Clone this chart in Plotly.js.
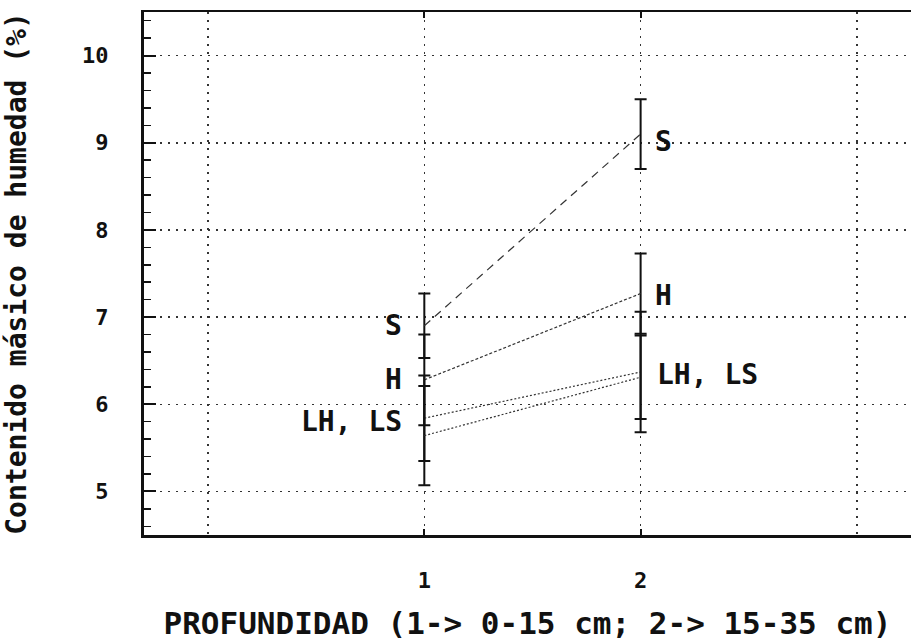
<!DOCTYPE html>
<html>
<head>
<meta charset="utf-8">
<script src="https://cdn.plot.ly/plotly-3.0.1.min.js"></script>
<style>html,body{margin:0;padding:0;background:#fff;}#chart{width:911px;height:641px;}</style>
</head>
<body>
<div id="chart"></div>
<script>
// Depth classes (1 -> 0-15 cm; 2 -> 15-35 cm)
const depth = [1, 2];
const seriesNames = ['S', 'H', 'LH', 'LS'];
// Mean mass moisture content (%)
const S  = [6.90, 9.10];
const H  = [6.28, 7.27];
const LH = [5.84, 6.37];
const LS = [5.64, 6.31];
// Error (half-range) for each mean
const errS  = [0.37, 0.40];
const errH  = [0.52, 0.46];
const errLH = [0.49, 0.69];
const errLS = [0.57, 0.48];
const xTickVals = [1, 2];
const xTickText = ['1', '2'];
const labelLeft = ['S', 'H', 'LH, LS'];
const labelRight = ['S', 'H', 'LH, LS'];

const FONT = '"DejaVu Sans Mono", "Liberation Mono", monospace';
const dashes = ['8px,6px', '3px,2px', '2px,2px', '2px,2px'];
const values = [S, H, LH, LS];
const errs = [errS, errH, errLH, errLS];

const traces = values.map((v, i) => ({
  x: depth, y: v, name: seriesNames[i], type: 'scatter', mode: 'lines',
  line: {color: '#333', width: 1.2, dash: dashes[i]},
  error_y: {type: 'data', array: errs[i], visible: true, color: '#111', thickness: 2, width: 6},
  hoverinfo: 'x+y'
}));

const annFont = {family: FONT, size: 28, color: '#111', weight: 'bold'};
const annotations = [];
// labels at depth 1 (to the left)
[[S[0], labelLeft[0]], [H[0], labelLeft[1]], [(LH[0] + LS[0]) / 2 + 0.06, labelLeft[2]]].forEach(([y, t]) => {
  annotations.push({x: depth[0], y: y, xref: 'x', yref: 'y', text: t, showarrow: false,
    xanchor: 'right', yanchor: 'middle', xshift: -20, font: annFont});
});
// labels at depth 2 (to the right)
[[S[1] - 0.08, labelRight[0]], [H[1] - 0.02, labelRight[1]], [(LH[1] + LS[1]) / 2, labelRight[2]]].forEach(([y, t], k) => {
  annotations.push({x: depth[1], y: y, xref: 'x', yref: 'y', text: t, showarrow: false,
    xanchor: 'left', yanchor: 'middle', xshift: k === 2 ? 14 : 12, font: annFont});
});

const layout = {
  width: 911, height: 641,
  margin: {l: 144, r: 0, t: 12, b: 106},
  paper_bgcolor: '#fff', plot_bgcolor: '#fff',
  showlegend: false,
  font: {family: FONT, color: '#111'},
  xaxis: {
    range: [-0.296, 3.25],
    tickmode: 'array', tickvals: xTickVals, ticktext: xTickText,
    ticks: 'inside', ticklen: 6, tickwidth: 2, tickcolor: '#111',
    showline: true, linecolor: '#111', linewidth: 2.5, mirror: 'ticks',
    showgrid: true, gridcolor: '#333', gridwidth: 1.5, griddash: '2px,6px',
    minor: {tick0: 0, dtick: 1, showgrid: true, gridcolor: '#333', gridwidth: 1.5, griddash: '2px,6px', ticks: ''},
    zeroline: false,
    tickfont: {family: FONT, size: 22, color: '#111', weight: 'bold'},
    ticklabelstandoff: 24,
    title: {text: 'PROFUNDIDAD (1-> 0-15 cm; 2-> 15-35 cm)', standoff: 30,
      font: {family: FONT, size: 31, color: '#111', weight: 'bold'}},
    automargin: false
  },
  yaxis: {
    range: [4.5, 10.5],
    tickmode: 'linear', tick0: 5, dtick: 1,
    ticks: 'inside', ticklen: 12, tickwidth: 2, tickcolor: '#111',
    minor: {dtick: 0.2, ticks: 'inside', ticklen: 7, tickwidth: 1.5, tickcolor: '#111', showgrid: false},
    showline: true, linecolor: '#111', linewidth: 3, mirror: false,
    showgrid: true, gridcolor: '#333', gridwidth: 1.5, griddash: '2px,6px',
    zeroline: false,
    tickfont: {family: FONT, size: 22, color: '#111', weight: 'bold'},
    ticklabelstandoff: 28,
    title: {text: 'Contenido másico de humedad (%)', standoff: 50,
      font: {family: FONT, size: 28, color: '#111', weight: 'bold'}},
    automargin: false
  },
  annotations: annotations
};

Plotly.newPlot('chart', traces, layout, {staticPlot: true, displayModeBar: false});
</script>
</body>
</html>
